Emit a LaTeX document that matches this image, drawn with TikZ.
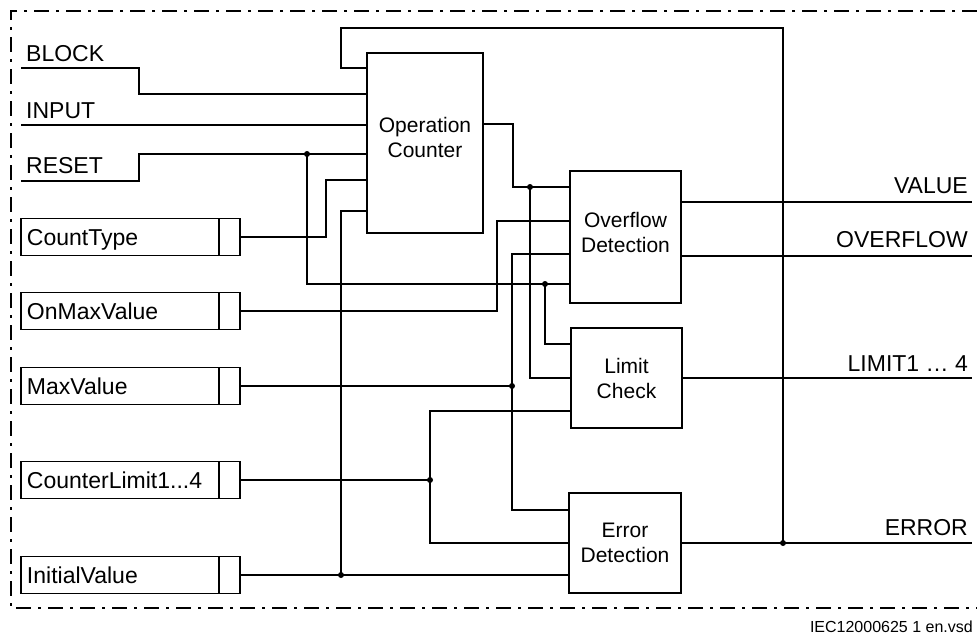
\documentclass[tikz,border=0pt]{standalone}
\usepackage{fontspec}
\setmainfont{Liberation Sans}
\usetikzlibrary{positioning}
\tikzset{
  wire/.style={line width=1.3pt},
  fblock/.style={draw,line width=1.6pt,inner sep=0pt,align=center,font=\fontsize{21}{25}\selectfont},
  raised/.style={text height=40pt,text depth=#1},
  parbox/.style={draw,line width=1.6pt,outer sep=0pt,minimum height=37pt,text width=186pt,inner xsep=6pt,inner ysep=0pt,
    text height=16.5pt,text depth=0pt,align=left,font=\fontsize{23}{27}\selectfont},
  partab/.style={draw,line width=1.6pt,outer sep=0pt,minimum height=37pt,minimum width=21pt,inner sep=0pt},
  port/.style={inner sep=0pt,font=\fontsize{23}{27}\selectfont},
  junc/.style={circle,fill,inner sep=0pt,minimum size=6pt},
  frame/.style={line width=2pt,dash pattern=on 15pt off 7pt on 3pt off 7pt}
}
\begin{document}
\begin{tikzpicture}[x=1pt,y=-1pt]
  \useasboundingbox (0,0) rectangle (977,637);
  \draw[frame] (977,11) -- (11,11) -- (11,608) -- (977,608);

  \node[fblock,raised=12pt,minimum width=116pt,minimum height=180pt] (opc) at (425,143) {Operation\\Counter};
  \node[fblock,raised=10pt,minimum width=111pt,minimum height=132pt] (ovf) at (625.5,237) {Overflow\\Detection};
  \node[fblock,minimum width=111pt,minimum height=100pt] (lim) at (626.5,378) {Limit\\Check};
  \node[fblock,minimum width=112pt,minimum height=100pt] (err) at (625,543) {Error\\Detection};

  \foreach \nm/\txt/\y in {ct/{CountType}/237, omv/{OnMaxValue}/311, mv/{MaxValue}/386,
      cl/{CounterLimit1...4}/480, iv/{InitialValue}/575} {
    \node[parbox,anchor=west] (\nm) at (21,\y) {\txt};
    \node[partab,right=0pt of \nm] (t\nm) {};
  }

  \node[port,anchor=base west] (lblock) at (26,61) {BLOCK};
  \node[port,anchor=base west] (linput) at (26,118) {INPUT};
  \node[port,anchor=base west] (lreset) at (26,173) {RESET};
  \coordinate (iblock) at (21,68);
  \coordinate (iinput) at (21,125);
  \coordinate (ireset) at (21,181);

  \node[port,anchor=base east] (lvalue) at (968,193) {VALUE};
  \node[port,anchor=base east] (loverflow) at (968,247) {OVERFLOW};
  \node[port,anchor=base east] (llimit) at (968,371) {LIMIT1 … 4};
  \node[port,anchor=base east] (lerror) at (968,535) {ERROR};
  \coordinate (ovalue) at (972,202);
  \coordinate (ooverflow) at (972,256);
  \coordinate (olimit) at (972,378);
  \coordinate (oerror) at (972,543);

  \coordinate (jreset) at (307,154);
  \coordinate (jreset2) at (545,284);
  \coordinate (jopc) at (530,187);
  \coordinate (jmax) at (512,386);
  \coordinate (jlim) at (430,480);
  \coordinate (jinit) at (341,575);
  \coordinate (jerr) at (783,543);

  \draw[wire] (iblock) -- (139,68) |- (opc.west |- 0,94);
  \draw[wire] (iinput) -- (opc.west |- 0,125);
  \draw[wire] (ireset) -- (139,181) |- (opc.west |- 0,154);
  \draw[wire] (jreset) |- (ovf.west |- 0,284);
  \draw[wire] (jreset2) |- (lim.west |- 0,344);
  \draw[wire] (tct.east) -| (326,180) -- (opc.west |- 0,180);
  \draw[wire] (tiv.east) -- (err.west |- tiv.east);
  \draw[wire] (jinit) |- (opc.west |- 0,211);
  \draw[wire] (tomv.east) -| (497,221) -- (ovf.west |- 0,221);
  \draw[wire] (tmv.east) -- (jmax);
  \draw[wire] (ovf.west |- 0,254) -| (512,510) -- (err.west |- 0,510);
  \draw[wire] (tcl.east) -- (jlim);
  \draw[wire] (lim.west |- 0,411) -| (430,543) -- (err.west);
  \draw[wire] (opc.east |- 0,124) -| (513,187) -- (ovf.west |- 0,187);
  \draw[wire] (jopc) |- (lim.west);
  \draw[wire] (opc.west |- 0,68) -| (341,28) -| (jerr);

  \draw[wire] (ovf.east |- ovalue) -- (ovalue);
  \draw[wire] (ovf.east |- ooverflow) -- (ooverflow);
  \draw[wire] (lim.east) -- (olimit);
  \draw[wire] (err.east) -- (oerror);

  \foreach \j in {jreset,jreset2,jopc,jmax,jlim,jinit,jerr}
    \node[junc] (d\j) at (\j) {};

  \node[inner sep=0pt,anchor=base east,font=\fontsize{16}{19}\selectfont] (fileid) at (973,632) {IEC12000625 1 en.vsd};
\end{tikzpicture}
\end{document}
